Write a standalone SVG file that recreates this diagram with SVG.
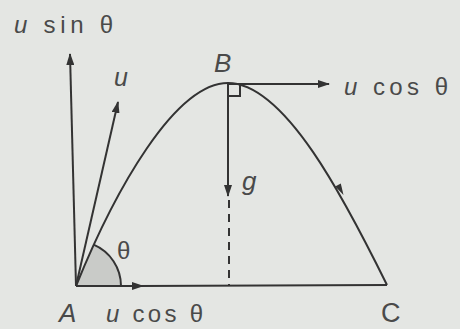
<svg xmlns="http://www.w3.org/2000/svg" width="460" height="329" viewBox="0 0 460 329">
  <style>
    .ln { stroke: #333; stroke-width: 2; fill: none; }
    .lbl { font-family: "Liberation Sans", Arial, sans-serif; fill: #4a4a4a; }
    .it { font-style: italic; }
  </style>
  <defs>
    <marker id="ah" viewBox="0 0 12 8" refX="11" refY="4" markerWidth="12" markerHeight="8" markerUnits="userSpaceOnUse" orient="auto">
      <path d="M0,0 L12,4 L0,8 Z" fill="#333"/>
    </marker>
  </defs>
  <rect width="460" height="329" fill="#e4e6e3"/>

  <g id="angle-sector">
    <path d="M76,286 L121,286 A45,45 0 0 0 93.6,244.6 Z" fill="#c9cbc8" stroke="none"/>
    <path d="M121,286 A45,45 0 0 0 93.6,244.6" class="ln" stroke-width="1.5"/>
  </g>

  <g id="connectors">
    <path id="trajectory" class="ln" d="M76,286 C115,190 175,83 228,83 C285,83 345,200 387,285"/>
    <polygon points="343.5,195 340.8,183.5 335.2,186.5" fill="#333"/>
    <line class="ln" x1="76" y1="286" x2="70" y2="54" marker-end="url(#ah)"/>
    <line class="ln" x1="76" y1="286" x2="118" y2="102" marker-end="url(#ah)"/>
    <line class="ln" x1="76" y1="286" x2="143" y2="286" marker-end="url(#ah)"/>
    <line class="ln" x1="140" y1="286" x2="387" y2="285"/>
    <line class="ln" x1="228" y1="84" x2="329" y2="84" marker-end="url(#ah)"/>
    <line class="ln" x1="228" y1="84" x2="228" y2="196" marker-end="url(#ah)"/>
    <line class="ln" x1="229" y1="200" x2="229" y2="285" stroke-dasharray="8 6"/>
    <path class="ln" d="M228,96 H240 V84" stroke-width="1.8"/>
  </g>

  <g id="node-A">
    <text class="lbl it" x="59" y="322" font-size="26">A</text>
  </g>
  <g id="node-B">
    <text class="lbl it" x="214" y="72" font-size="26">B</text>
  </g>
  <g id="node-C">
    <text class="lbl" x="381" y="322" font-size="27">C</text>
  </g>

  <g id="labels">
    <text class="lbl" x="14" y="33" font-size="24" textLength="99" lengthAdjust="spacing"><tspan class="it">u</tspan> sin θ</text>
    <text class="lbl it" x="114" y="86" font-size="25">u</text>
    <text class="lbl" x="344" y="95" font-size="24" textLength="104" lengthAdjust="spacing"><tspan class="it">u</tspan> cos θ</text>
    <text class="lbl it" x="242" y="190" font-size="26">g</text>
    <text class="lbl" x="117" y="259" font-size="24">θ</text>
    <text class="lbl" x="106" y="322" font-size="24" textLength="97" lengthAdjust="spacing"><tspan class="it">u</tspan> cos θ</text>
  </g>
</svg>
